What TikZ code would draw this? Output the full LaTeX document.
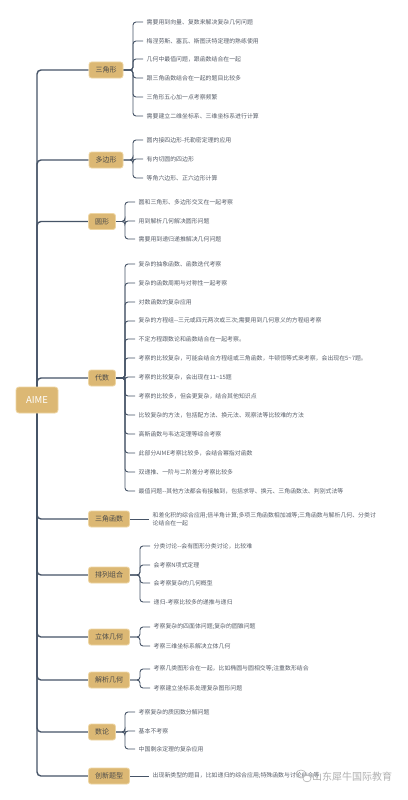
\documentclass[tikz,border=0pt]{standalone}
\usepackage{fontspec}
\setmainfont{Noto Sans CJK SC}
\usetikzlibrary{backgrounds}
\definecolor{linec}{HTML}{465467}
\definecolor{boxc}{HTML}{DCB874}
\definecolor{boxb}{HTML}{EED6A4}
\definecolor{txtc}{HTML}{5A606B}
\definecolor{cattxt}{HTML}{4A4A4A}
\tikzset{
  rootbox/.style={draw=boxb, fill=boxc, rounded corners=3pt, line width=0.8pt,
    minimum width=42pt, minimum height=26pt, inner sep=0pt,
    font=\fontsize{9.5pt}{10pt}\selectfont, text=white},
  cat/.style={draw=boxb, fill=boxc, rounded corners=2.5pt, line width=0.8pt,
    minimum height=16pt, inner xsep=6.5pt, inner ysep=0pt,
    font=\fontsize{7pt}{8pt}\selectfont, text=cattxt},
  leaf/.style={anchor=west, inner xsep=3.5pt, inner ysep=1pt,
    font=\fontsize{5.9pt}{8pt}\selectfont, text=txtc},
  trunk/.style={draw=linec, line width=1.4pt, rounded corners=4pt},
  brk/.style={draw=linec, line width=0.9pt, rounded corners=3pt},
}
\begin{document}
\begin{tikzpicture}[x=1pt,y=-1pt]
\begin{scope}[on background layer]
\fill[white] (0,0) rectangle (407,800);
\end{scope}
\useasboundingbox (0,0) rectangle (407,800);

\node[rootbox] (root) at (37,400) {AIME};
\node[cat] (c1) at (106,70) {三角形};
\node[cat] (c2) at (106,160) {多边形};
\node[cat] (c3) at (102,221.5) {圆形};
\node[cat] (c4) at (102,378) {代数};
\node[cat] (c5) at (109,519) {三角函数};
\node[cat] (c6) at (109,575) {排列组合};
\node[cat] (c7) at (109,637) {立体几何};
\node[cat] (c8) at (109,680) {解析几何};
\node[cat] (c9) at (102,732) {数论};
\node[cat] (c10) at (109,776) {创新题型};

% group 1
\foreach \yy/\t [count=\i] in {
  22/需要用到向量、复数来解决复杂几何问题,
  41/梅涅劳斯、塞瓦、斯图沃特定理的熟练使用,
  59/几何中最值问题，跟函数结合在一起,
  78/跟三角函数结合在一起的题目比较多,
  97/三角形五心加一点考察频繁,
  116/需要建立二维坐标系、三维坐标系进行计算}{
  \node[leaf] (a\i) at (143,\yy) {\t};
  \begin{scope}[on background layer]
  \draw[brk] (c1.east) -- (133,70) |- (a\i.west);
  \end{scope}
}
% group 2
\foreach \yy/\t [count=\i] in {
  140/圆内接四边形-托勒密定理的应用,
  159/有内切圆的四边形,
  178/等角六边形、正六边形计算}{
  \node[leaf] (b\i) at (143,\yy) {\t};
  \begin{scope}[on background layer]
  \draw[brk] (c2.east) -- (133,160) |- (b\i.west);
  \end{scope}
}
% group 3
\foreach \yy/\t [count=\i] in {
  202/圆和三角形、多边形交叉在一起考察,
  221/用到解析几何解决圆形问题,
  239/需要用到递归递推解决几何问题}{
  \node[leaf] (d\i) at (135,\yy) {\t};
  \begin{scope}[on background layer]
  \draw[brk] (c3.east) -- (125,221.5) |- (d\i.west);
  \end{scope}
}
% group 4
\foreach \yy/\t [count=\i] in {
  264/复杂的抽象函数、函数迭代考察,
  283/复杂的函数周期与对称性一起考察,
  302/对数函数的复杂应用,
  321/{复杂的方程组{-}{-}三元或四元两次或三次;需要用到几何意义的方程组考察},
  339/不定方程跟数论和函数结合在一起考察。,
  358/{考察的比较复杂，可能会结合方程组或三角函数，牛顿恒等式来考察，会出现在5\textasciitilde 7题。},
  377/{考察的比较复杂，会出现在11\textasciitilde 15题},
  396/考察的比较多，但会更复杂，结合其他知识点,
  415/比较复杂的方法，包括配方法、换元法、观察法等比较难的方法,
  434/高斯函数与韦达定理等综合考察,
  453/此部分AIME考察比较多，会结合幂指对函数,
  472/双递推、一阶与二阶差分考察比较多,
  491/{最值问题{-}{-}其他方法都会有接触到，包括求导、换元、三角函数法、判别式法等}}{
  \node[leaf] (e\i) at (135,\yy) {\t};
  \begin{scope}[on background layer]
  \draw[brk] (c4.east) -- (125,378) |- (e\i.west);
  \end{scope}
}
% group 5
\node[leaf, align=left, font=\fontsize{5.9pt}{7.8pt}\selectfont] (f1) at (149,519)
  {和差化积的综合应用;倍半角计算;多项三角函数相加减等;三角函数与解析几何、分类讨\\论结合在一起};
\begin{scope}[on background layer]
\draw[brk] (c5.east) -- (f1.west);
\end{scope}
% group 6
\foreach \yy/\t [count=\i] in {
  546/{分类讨论{-}{-}会有图形分类讨论，比较难},
  565/会考察N项式定理,
  583/会考察复杂的几何概型,
  602/递归-考察比较多的递推与递归}{
  \node[leaf] (g\i) at (150,\yy) {\t};
  \begin{scope}[on background layer]
  \draw[brk] (c6.east) -- (140,575) |- (g\i.west);
  \end{scope}
}
% group 7
\foreach \yy/\t [count=\i] in {
  627/考察复杂的四面体问题;复杂的圆锥问题,
  646/考察三维坐标系解决立体几何}{
  \node[leaf] (h\i) at (150,\yy) {\t};
  \begin{scope}[on background layer]
  \draw[brk] (c7.east) -- (140,637) |- (h\i.west);
  \end{scope}
}
% group 8
\foreach \yy/\t [count=\i] in {
  669/考察几类图形合在一起，比如椭圆与圆相交等;注重数形结合,
  688/考察建立坐标系处理复杂图形问题}{
  \node[leaf] (k\i) at (150,\yy) {\t};
  \begin{scope}[on background layer]
  \draw[brk] (c8.east) -- (140,680) |- (k\i.west);
  \end{scope}
}
% group 9
\foreach \yy/\t [count=\i] in {
  712/考察复杂的质因数分解问题,
  731/基本不考察,
  749/中国剩余定理的复杂应用}{
  \node[leaf] (m\i) at (135,\yy) {\t};
  \begin{scope}[on background layer]
  \draw[brk] (c9.east) -- (125,732) |- (m\i.west);
  \end{scope}
}
% group 10
\node[leaf] (n1) at (149,776) {出现新类型的题目，比如递归的综合应用;特殊函数与讨论结合等};
\begin{scope}[on background layer]
\draw[brk] (c10.east) -- (n1.west);
\end{scope}

% trunk
\begin{scope}[on background layer]
\foreach \c in {c1,c2,c3,c4,c5,c6,c7,c8,c9,c10}{
  \draw[trunk] (root.center) |- (\c.west);
}
\end{scope}

% watermark
\node[anchor=west, inner sep=0pt, font=\fontsize{10pt}{10pt}\selectfont, text=black!30] (wm) at (312,776.5) {山东犀牛国际教育};
\draw[black!30, line width=0.6pt] (301,774) ellipse (5pt and 4pt);
\draw[black!30, line width=0.6pt, fill=white] (307,778.5) ellipse (4pt and 3.3pt);
\end{tikzpicture}
\end{document}
